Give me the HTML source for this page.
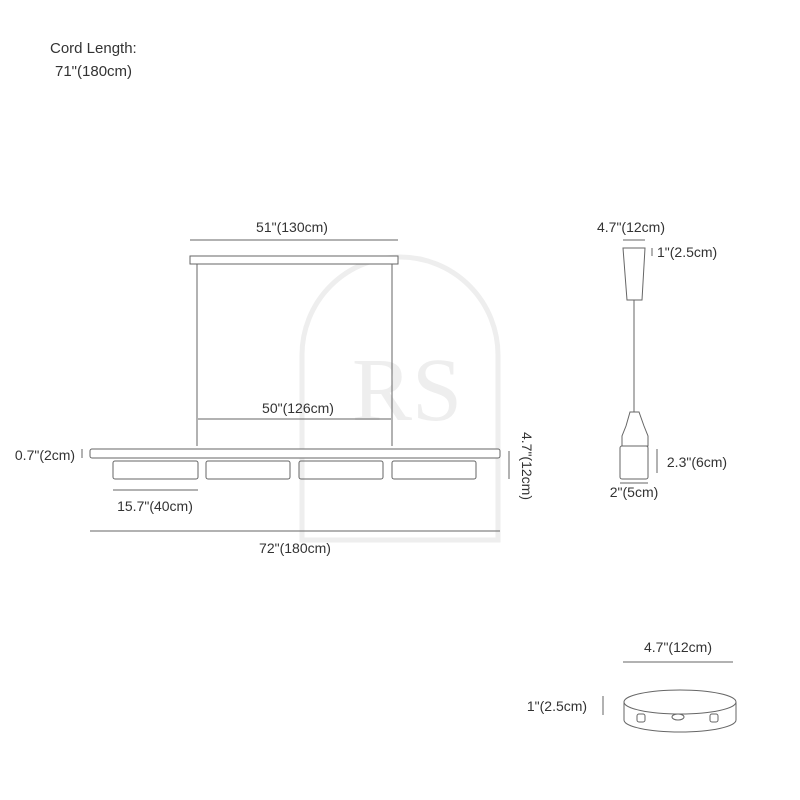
<!DOCTYPE html>
<html><head><style>body{margin:0;background:#fff}svg{display:block}text{font-family:"Liberation Sans",sans-serif;font-size:14px;fill:#333}</style></head><body>
<svg width="800" height="800" viewBox="0 0 800 800" xmlns="http://www.w3.org/2000/svg">
<g fill="none" stroke="#eee" stroke-width="5">
<path d="M302 540 V355 A98 98 0 0 1 498 355 V540 Z"/>
</g>
<text x="352" y="420" style="font-size:90px;fill:#eee;font-family:'Liberation Serif',serif">RS</text>
<text x="50" y="53" style="font-size:15px">Cord Length:</text>
<text x="55" y="76" style="font-size:15px">71"(180cm)</text>
<g stroke="#666" stroke-width="1" fill="none">
<line x1="190" y1="240" x2="398" y2="240"/>
<rect x="190" y="256" width="208" height="8" fill="#fff"/>
<line x1="197" y1="264" x2="197" y2="446"/>
<line x1="392" y1="264" x2="392" y2="446"/>
<line x1="198" y1="419" x2="391" y2="419"/>
<rect x="90" y="449" width="410" height="9" rx="2" fill="#fff"/>
<rect x="113" y="461" width="85" height="18" rx="2"/>
<rect x="206" y="461" width="84" height="18" rx="2"/>
<rect x="299" y="461" width="84" height="18" rx="2"/>
<rect x="392" y="461" width="84" height="18" rx="2"/>
<line x1="113" y1="490" x2="198" y2="490"/>
<line x1="90" y1="531" x2="500" y2="531"/>
<line x1="82" y1="449" x2="82" y2="458"/>
<line x1="509" y1="451" x2="509" y2="479"/>
<line x1="623" y1="240" x2="645" y2="240"/>
<path d="M623 248 H645 L642 300 H627 Z" fill="#fff"/>
<line x1="652" y1="248" x2="652" y2="256"/>
<line x1="634" y1="300" x2="634" y2="412"/>
<path d="M630 412 L626 426 L622 436 L622 446 H648 L648 436 L644 426 L639 412 Z"/>
<rect x="620" y="446" width="28" height="33" rx="2" fill="#fff"/>
<line x1="657" y1="449" x2="657" y2="473"/>
<line x1="620" y1="483" x2="648" y2="483"/>
<line x1="623" y1="662" x2="733" y2="662"/>
<path d="M624 702 V720 A56 12 0 0 0 736 720 V702"/>
<ellipse cx="680" cy="702" rx="56" ry="12" fill="#fff"/>
<ellipse cx="678" cy="717" rx="6" ry="3"/>
<rect x="637" y="714" width="8" height="8" rx="2"/>
<rect x="710" y="714" width="8" height="8" rx="2"/>
<line x1="603" y1="696" x2="603" y2="715"/>
</g>
<text x="292" y="232" text-anchor="middle">51"(130cm)</text>
<text x="298" y="413" text-anchor="middle">50"(126cm)</text>
<text x="45" y="460" text-anchor="middle">0.7"(2cm)</text>
<text x="155" y="511" text-anchor="middle">15.7"(40cm)</text>
<text x="295" y="553" text-anchor="middle">72"(180cm)</text>
<text transform="translate(522,466) rotate(90)" text-anchor="middle">4.7"(12cm)</text>
<text x="631" y="232" text-anchor="middle">4.7"(12cm)</text>
<text x="657" y="257">1"(2.5cm)</text>
<text x="697" y="467" text-anchor="middle">2.3"(6cm)</text>
<text x="634" y="497" text-anchor="middle">2"(5cm)</text>
<text x="678" y="652" text-anchor="middle">4.7"(12cm)</text>
<text x="557" y="711" text-anchor="middle">1"(2.5cm)</text>
</svg>
</body></html>
